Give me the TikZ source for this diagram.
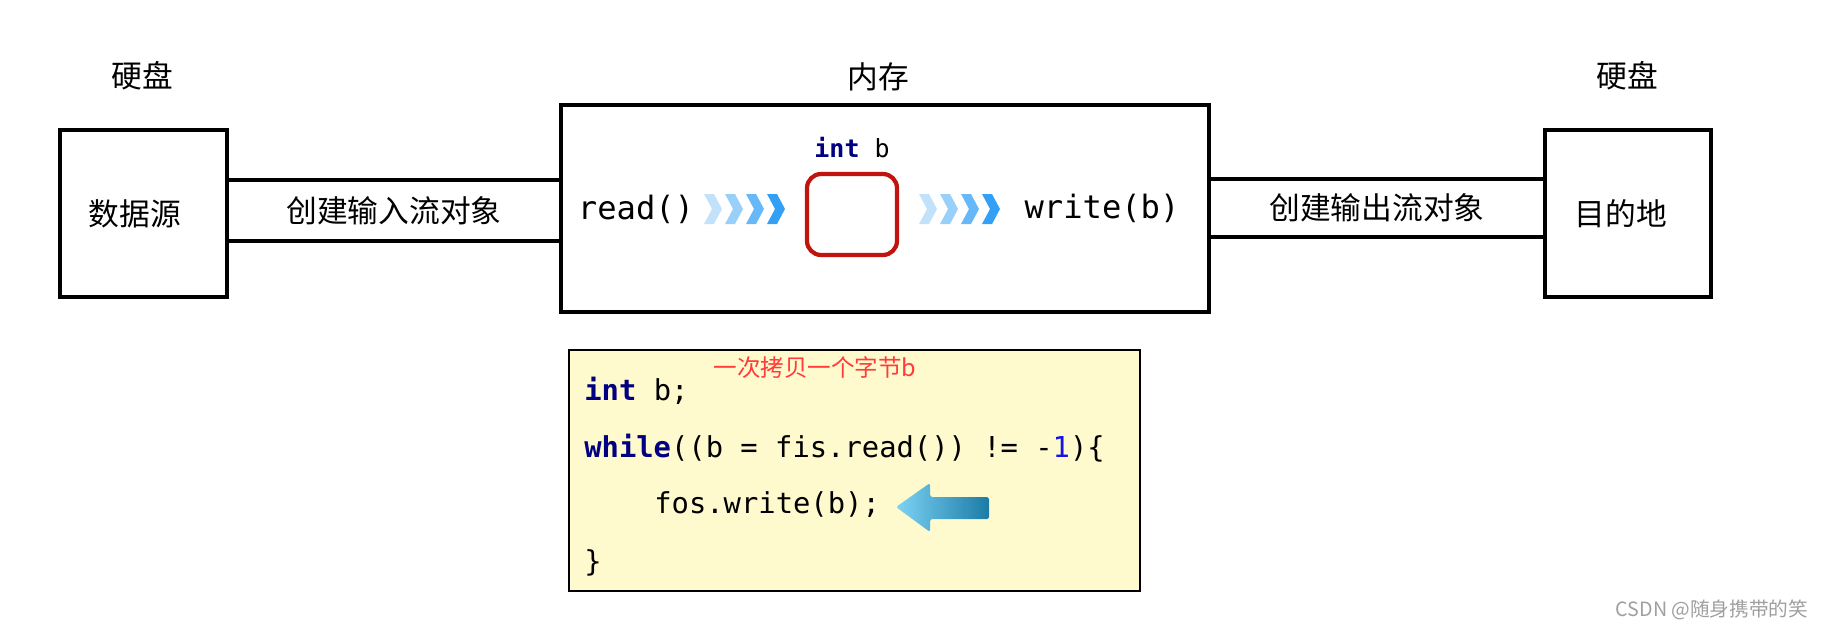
\documentclass[tikz,border=0pt]{standalone}
\usepackage{fontspec}
\setmainfont{Noto Sans CJK SC}
\setmonofont{DejaVu Sans Mono}
\newcommand{\cnfont}{\fontsize{17.5}{20}\selectfont}
\newcommand{\codefont}{\fontsize{16.4}{19}\selectfont\ttfamily}
\definecolor{chev}{RGB}{51,160,245}
\definecolor{kw}{RGB}{0,0,128}
\definecolor{num}{RGB}{20,20,230}
\definecolor{bufred}{RGB}{192,21,15}
\definecolor{codebg}{RGB}{255,250,205}
\definecolor{note}{RGB}{255,59,59}
\definecolor{arrl}{RGB}{125,211,245}
\definecolor{arrr}{RGB}{27,123,166}
\begin{document}
\begin{tikzpicture}[x=0.02cm,y=-0.02cm,
    disk/.style={draw,line width=2.4pt,minimum width=3.34cm,minimum height=3.34cm,font=\cnfont},
    pipe/.style={line width=2.4pt},
    lbl/.style={font=\cnfont,inner sep=0pt},
    codeline/.style={anchor=west,inner sep=0pt,font=\codefont}]
  \useasboundingbox (0,0) rectangle (1824,629);
  \node[disk,text width=2.9cm,align=center] (src) at (143.5,213.5) {\hspace*{-10pt}数据源};
  \node[disk,minimum width=3.32cm] (dst) at (1628,213.5) {\hspace*{-8pt}目的地};
  \node[draw,line width=2.4pt,minimum width=12.96cm,minimum height=4.14cm] (mem) at (885,208.5) {};
  \node[lbl] (disk1) at (142,76) {硬盘};
  \node[lbl] (disk2) at (1627,76) {硬盘};
  \node[lbl] (memlbl) at (878,77) {内存};
  \node[lbl,minimum height=1.22cm] (inpipe) at (394,210.5) {创建输入流对象};
  \node[lbl,minimum height=1.16cm] (outpipe) at (1377,208) {创建输出流对象};
  \draw[pipe] (src.east |- inpipe.north) -- (mem.west |- inpipe.north);
  \draw[pipe] (src.east |- inpipe.south) -- (mem.west |- inpipe.south);
  \draw[pipe] (mem.east |- outpipe.north) -- (dst.west |- outpipe.north);
  \draw[pipe] (mem.east |- outpipe.south) -- (dst.west |- outpipe.south);
  \node[draw=bufred,line width=2.4pt,rounded corners=8pt,minimum width=1.8cm,minimum height=1.62cm] (buf) at (852,214.5) {};
  \node[inner sep=0pt,font=\fontsize{14.2}{16}\selectfont\ttfamily] (intb) at (852,148) {\textcolor{kw}{\bfseries int} b};
  \node[inner sep=0pt,font=\fontsize{18.3}{21}\selectfont\ttfamily] (rd) at (636,209) {read()};
  \node[inner sep=0pt,font=\fontsize{18.3}{21}\selectfont\ttfamily] (wr) at (1102,208) {write(b)};
  \foreach \x in {704,919}
    \foreach \i/\c in {0/30,1/50,2/75,3/100}
      \fill[chev!\c] ({\x+21*\i},194) -- ++(10,0) -- ++(8,15) -- ++(-8,15) -- ++(-10,0) -- ++(8,-15) -- cycle;
  \node[draw,line width=0.8pt,fill=codebg,minimum width=11.42cm,minimum height=4.82cm] (code) at (854.5,470.5) {};
  \node[inner sep=0pt,text=note,font=\fontsize{13.4}{15}\selectfont] (note) at (815,368) {一次拷贝一个字节b};
  \node[codeline] (l1) at (584,391) {\textcolor{kw}{\bfseries int} b;};
  \node[codeline] (l2) at (584,448) {\textcolor{kw}{\bfseries while}((b = fis.read()) != -\textcolor{num}{1})\{};
  \node[codeline] (l3) at (654,505) {fos.write(b);};
  \node[codeline] (l4) at (584,563) {\}};
  \shade[left color=arrl,right color=arrr,rounded corners=1pt] (896,507) -- (930,483) -- (930,497) -- (989,497) -- (989,519) -- (930,519) -- (930,532) -- cycle;
  \node[inner sep=0pt,text=gray!75,font=\fontsize{11.2}{13}\selectfont] (mark) at (1712,610) {CSDN @随身携带的笑};
\end{tikzpicture}
\end{document}
